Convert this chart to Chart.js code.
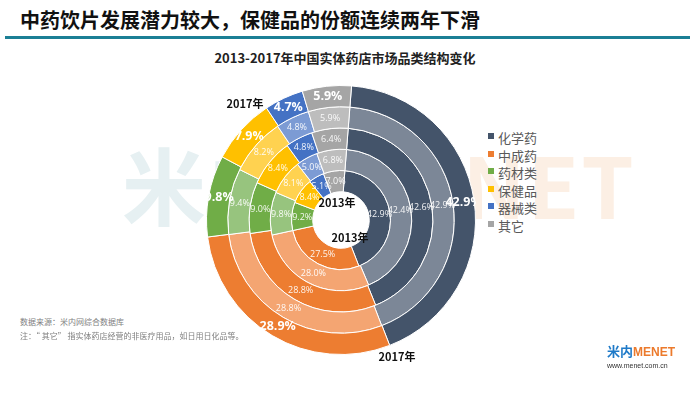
<!DOCTYPE html>
<html>
<head>
<meta charset="utf-8">
<script src="https://cdn.jsdelivr.net/npm/chart.js@4"></script>
<style>
  html, body { margin: 0; padding: 0; background: #fff; }
  body { width: 690px; height: 397px; position: relative; overflow: hidden;
         font-family: "Noto Sans CJK SC", "Noto Sans", sans-serif; }
  .abs { position: absolute; white-space: nowrap; }
  #title { left: 20px; top: 6px; font-size: 20px; font-weight: bold; color: #111; line-height: 28px; }
  #rule { left: 5px; top: 36px; width: 685px; height: 3px; background: #1b7f95; }
  #subtitle { left: 0; width: 690px; top: 49px; text-align: center; font-size: 13px; font-weight: bold; color: #222; line-height: 18px; }
  #watermark { left: 122px; top: 138px; font-size: 84px; font-weight: bold; line-height: 90px; letter-spacing: 2px; }
  #watermark .a { color: #e6f0f2; }
  #watermark .b { color: #fcefe4; }
  #chartBox { left: 206px; top: 85px; width: 270px; height: 270px; }
  #legend { left: 488px; top: 129px; font-size: 13px; color: #595959; line-height: 17.6px; }
  #legend i { display: inline-block; width: 6px; height: 6px; margin-right: 4px; vertical-align: 4px; }
  .yr { font-size: 11px; font-weight: bold; color: #111; line-height: 14px; transform: translate(-50%, -50%); }
  .note { left: 20px; font-size: 8px; color: #7f7f7f; line-height: 11px; }
  #logo { left: 607px; top: 344px; line-height: 11px; }
  #logo .mi { color: #1f7ac8; font-weight: bold; font-size: 13px; }
  #logo .me { color: #ec7a2c; font-weight: bold; font-size: 12px; font-family: "Liberation Sans", sans-serif; }
  #logo .url { display: block; font-size: 7px; color: #333; font-family: "Liberation Sans", sans-serif; margin-top: 2px; }
</style>
</head>
<body>
<div id="watermark" class="abs"><span class="a">米内</span><span class="b">&nbsp;&nbsp;&nbsp;&nbsp;&nbsp;&nbsp;&nbsp;&nbsp;NET</span></div>
<div id="title" class="abs">中药饮片发展潜力较大，保健品的份额连续两年下滑</div>
<div id="rule" class="abs"></div>
<div id="subtitle" class="abs">2013-2017年中国实体药店市场品类结构变化</div>
<div id="chartBox" class="abs"><canvas id="ringChart" width="270" height="270"></canvas></div>
<div id="legend" class="abs"></div>
<div class="abs yr" style="left:337px;top:202px">2013年</div>
<div class="abs yr" style="left:350px;top:237px">2013年</div>
<div class="abs yr" style="left:245px;top:103px">2017年</div>
<div class="abs yr" style="left:397px;top:356px">2017年</div>
<div class="abs note" style="top:316px">数据来源：米内网综合数据库</div>
<div class="abs note" style="top:330px">注：“ 其它” 指实体药店经营的非医疗用品，如日用日化品等。</div>
<div id="logo" class="abs"><span class="mi">米内</span><span class="me">MENET</span><span class="url">www.menet.com.cn</span></div>

<script>
// categories and yearly shares (%), outer ring = latest year
const categories = ['化学药', '中成药', '药材类', '保健品', '器械类', '其它'];
const years = ['2017', '2016', '2015', '2014', '2013'];
const share2017 = [42.9, 28.9, 9.8, 7.9, 4.7, 5.9];
const share2016 = [42.9, 28.8, 9.4, 8.2, 4.8, 5.9];
const share2015 = [42.6, 28.8, 9.0, 8.4, 4.8, 6.4];
const share2014 = [42.4, 28.0, 9.8, 8.1, 5.0, 6.8];
const share2013 = [42.9, 27.5, 9.2, 8.4, 5.1, 7.0];

const darkColors = ['#44546a', '#ed7d31', '#70ad47', '#ffc000', '#4472c4', '#a5a5a5'];
const lightColors = ['#7c8797', '#f4a572', '#97c47e', '#ffd250', '#7c9bd4', '#bdbdbd'];

const shares = [share2017, share2016, share2015, share2014, share2013];

// legend
document.getElementById('legend').innerHTML = categories.map((c, i) =>
  '<div><i style="background:' + darkColors[i] + '"></i>' + c + '</div>'
).join('');

/** Write each slice's value at the middle of its arc. */
const arcLabels = {
  id: 'arcLabels',
  afterDatasetsDraw(chart) {
    const ctx = chart.ctx;
    ctx.save();
    ctx.textAlign = 'center';
    ctx.textBaseline = 'middle';
    chart.data.datasets.forEach((ds, di) => {
      const meta = chart.getDatasetMeta(di);
      const outer = di === 0;
      ctx.font = outer ? 'bold 12.5px "Open Sans", sans-serif' : '9px "Open Sans", sans-serif';
      ctx.fillStyle = outer ? '#ffffff' : 'rgba(255,255,255,0.92)';
      meta.data.forEach((arc, i) => {
        const p = arc.tooltipPosition();
        ctx.fillText(ds.data[i].toFixed(1) + '%', p.x, p.y);
      });
    });
    ctx.restore();
  },
};

new Chart(document.getElementById('ringChart'), {
  type: 'doughnut',
  data: {
    labels: categories,
    datasets: years.map((y, k) => ({
      label: y,
      data: shares[k],
      backgroundColor: k % 2 === 0 ? darkColors : lightColors,
      borderColor: '#ffffff',
      borderWidth: 1,
      hoverOffset: 0,
    })),
  },
  options: {
    responsive: false,
    animation: false,
    rotation: 4.5,
    cutout: '21%',
    layout: { padding: 0 },
    plugins: { legend: { display: false }, tooltip: { enabled: false } },
  },
  plugins: [arcLabels],
});
</script>
</body>
</html>
